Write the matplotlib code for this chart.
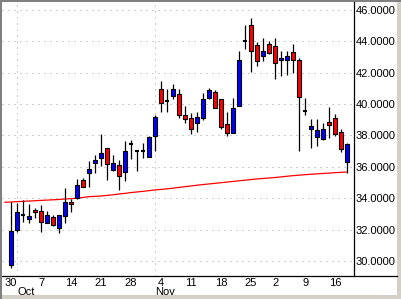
import numpy as np
import pandas as pd
import matplotlib
matplotlib.use("Agg")
import matplotlib.pyplot as plt
from matplotlib.patches import Rectangle
from matplotlib.lines import Line2D

plt.rcParams['font.family'] = ['Liberation Sans', 'DejaVu Sans']

# trading days 30 Sep - 18 Dec 2002 (Thanksgiving closed)
dates = pd.bdate_range('2002-09-30', '2002-12-18')
dates = dates[dates != pd.Timestamp('2002-11-28')]

opens = [29.77, 31.99, 32.93, 32.69, 33.25, 33.19, 32.44, 32.78, 32.12, 32.88,
         33.74, 34.00, 35.15, 35.60, 36.24, 36.56, 37.21, 35.79, 36.13, 35.67,
         37.46, 36.99, 36.99, 36.63, 37.97, 40.99, 40.19, 40.51, 40.67, 39.29,
         39.13, 38.81, 39.13, 40.38, 40.77, 40.30, 38.74, 38.17, 39.87, 44.04,
         45.04, 43.78, 43.04, 43.83, 43.68, 42.80, 42.80, 43.33, 42.80, 39.55,
         38.42, 37.91, 37.78, 38.87, 39.13, 38.23, 36.28]
highs = [33.78, 33.68, 33.89, 33.63, 33.40, 33.57, 33.19, 32.93, 32.93, 34.64,
         33.94, 35.24, 35.32, 36.39, 36.78, 38.12, 37.21, 36.78, 36.46, 37.63,
         37.74, 37.10, 37.53, 37.95, 39.28, 41.47, 40.99, 41.26, 40.99, 39.87,
         39.45, 39.49, 40.73, 41.05, 40.88, 40.30, 39.51, 40.37, 43.36, 45.04,
         45.49, 43.94, 44.24, 44.04, 44.19, 43.40, 43.40, 43.83, 42.91, 40.41,
         39.02, 39.02, 38.81, 39.81, 39.40, 38.44, 37.53]
lows = [29.55, 31.86, 32.50, 32.44, 32.72, 31.86, 32.44, 32.22, 31.76, 32.40,
        33.14, 33.96, 34.71, 34.74, 35.60, 36.03, 35.17, 35.75, 34.53, 35.11,
        36.50, 35.71, 36.56, 36.60, 36.99, 39.49, 39.49, 40.30, 39.13, 38.81,
        38.10, 38.21, 38.97, 40.35, 39.77, 38.42, 37.99, 38.17, 39.87, 43.51,
        42.05, 42.44, 42.76, 43.19, 41.58, 41.79, 41.84, 41.97, 36.99, 39.28,
        37.21, 37.31, 37.74, 37.85, 37.95, 36.95, 35.60]
closes = [31.92, 33.10, 32.93, 32.87, 33.10, 32.46, 32.93, 32.27, 32.93, 33.74,
          33.62, 34.85, 34.71, 35.86, 36.46, 36.88, 36.18, 36.24, 35.43, 37.03,
          37.46, 36.99, 36.99, 37.93, 39.19, 40.09, 40.19, 40.99, 39.29, 39.06,
          38.42, 39.19, 40.30, 40.88, 39.77, 38.53, 38.17, 39.77, 42.80, 44.04,
          43.40, 42.72, 43.40, 43.29, 42.59, 42.97, 43.04, 42.82, 40.45, 39.55,
          38.63, 38.38, 38.42, 38.65, 38.10, 37.16, 37.48]

# moving average, starts one session earlier (27 Sep)
ma = [33.74, 33.76, 33.78, 33.80, 33.82, 33.84, 33.86, 33.88, 33.90, 33.92,
      33.95, 33.97, 34.00, 34.05, 34.10, 34.12, 34.14, 34.18, 34.22, 34.27,
      34.31, 34.36, 34.40, 34.44, 34.48, 34.53, 34.56, 34.60, 34.64, 34.69,
      34.74, 34.78, 34.83, 34.87, 34.91, 34.95, 34.99, 35.03, 35.07, 35.11,
      35.15, 35.19, 35.23, 35.26, 35.29, 35.32, 35.36, 35.40, 35.44, 35.47,
      35.50, 35.53, 35.55, 35.58, 35.60, 35.63, 35.65, 35.67]

yticks = [30, 32, 34, 36, 38, 40, 42, 44, 46]

o = np.array(opens)
h = np.array(highs)
l = np.array(lows)
c = np.array(closes)
idx = np.arange(len(dates))

W, H = 401, 299
fig = plt.figure(figsize=(W / 100, H / 100), dpi=100)
fig.patch.set_facecolor('white')
ax = fig.add_axes([2 / W, 1 - 275.7 / H, 352.3 / W, 273.7 / H])

# grid
ax.set_yticks(yticks)
ax.yaxis.tick_right()
ax.yaxis.set_major_formatter(matplotlib.ticker.FormatStrFormatter('%.4f'))
ax.tick_params(axis='y', length=0, pad=1, labelsize=8)
ax.grid(axis='y', which='major', color='#a0a0a0', lw=0.72, ls=(0, (1, 5)))

# x labels: Mondays day-of-month, months at first session
mondays = [i for i, d in enumerate(dates) if d.weekday() == 0]
ax.set_xticks(mondays, [str(dates[i].day) for i in mondays])
month_start = [i for i in idx if i == 0 or dates[i].month != dates[i - 1].month][1:]
ax.set_xticks(month_start, [dates[i].strftime('%b') for i in month_start], minor=True)
ax.tick_params(axis='x', which='major', length=0, pad=1.5, labelsize=8)
ax.tick_params(axis='x', which='minor', length=0, pad=8, labelsize=8)
for t in ax.get_xticklabels(minor=True):
    t.set_ha('left')
ax.grid(axis='x', which='minor', color='#a0a0a0', lw=0.72, ls=(0, (1, 5)))
ax.grid(axis='x', which='major', visible=False)

# moving average
ax.plot(np.arange(-1, len(dates)), ma, color='#ff0000', lw=0.9, zorder=2)

# candles
ax.vlines(idx, l, h, color='black', lw=0.9, zorder=3)
up = c > o
down = c < o
flat = c == o
ax.bar(idx[up], (c - o)[up], bottom=o[up], width=0.75, color='#0000ff',
       edgecolor='black', lw=0.8, zorder=4)
ax.bar(idx[down], (o - c)[down], bottom=c[down], width=0.75, color='#ff0000',
       edgecolor='black', lw=0.8, zorder=4)
ax.hlines(c[flat], idx[flat] - 0.4, idx[flat] + 0.4, color='black', lw=1.5, zorder=4)

ax.set_xlim(-1.5, 57.2)
ax.set_ylim(29.06, 46.51)
for s in ['left', 'top']:
    ax.spines[s].set_visible(False)
ax.spines['right'].set_linewidth(0.9)
ax.spines['bottom'].set_linewidth(0.9)

# axis line continues under the price labels, plus window frame
fig.add_artist(Line2D([354 / W, 397 / W], [1 - 275.7 / H, 1 - 275.7 / H],
                      transform=fig.transFigure, color='black', lw=0.9))
fig.add_artist(Rectangle((397 / W, 0), 4 / W, 1, transform=fig.transFigure,
                         color='#d4d0c8', lw=0))
fig.add_artist(Rectangle((0, 0), 1, 4 / H, transform=fig.transFigure,
                         color='#d4d0c8', lw=0))
fig.add_artist(Rectangle((0, 1 - 2 / H), 1, 2 / H, transform=fig.transFigure,
                         color='#808080', lw=0))
fig.add_artist(Rectangle((0, 0), 2 / W, 1, transform=fig.transFigure,
                         color='#808080', lw=0))

fig.savefig('out.png', dpi=100)
